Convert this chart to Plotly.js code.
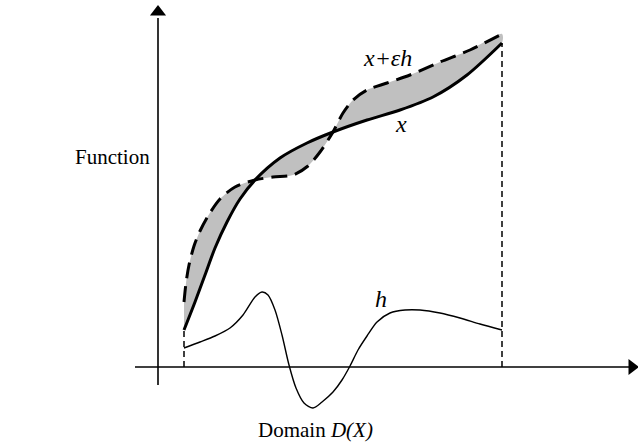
<!DOCTYPE html>
<html>
<head>
<meta charset="utf-8">
<script src="https://cdn.plot.ly/plotly-3.0.1.min.js"></script>
<style>html,body{margin:0;padding:0;background:#fff;}#chart{width:638px;height:446px;}</style>
</head>
<body>
<div id="chart"></div>
<script>
// Schematic coordinates: origin at the axes crossing, v grows upward.
// Curve x (solid)
const xCurveU = [26, 37, 47, 57, 69, 82, 97, 122, 149, 175, 209, 242, 275, 309, 344];
const xCurveV = [37, 65, 92, 119, 145, 168, 187, 209, 224, 235, 247, 257, 270, 292, 324];
// Curve x + eps*h (dashed)
const pertU = [26, 28, 31, 36, 42, 50, 62, 77, 97, 115, 135, 150, 162, 175, 185, 195, 209, 229, 252, 282, 312, 344];
const pertV = [65, 84, 102, 121, 136, 151, 168, 180, 187, 190, 192, 201, 215, 235, 254, 267, 277, 284, 292, 305, 317, 333];
// Curve h (thin)
const hU = [26, 42, 57, 72, 85, 97, 104, 110, 117, 124, 131, 138, 146, 155, 164, 175, 184, 192, 200, 209, 219, 232, 247, 262, 282, 302, 322, 344];
const hV = [19, 25, 31, 39, 52, 70, 75, 72, 57, 32, 2, -21, -36, -41, -35, -25, -13, 1, 17, 31, 45, 54, 57, 57, 54, 49, 43, 37];
// Domain bounds and axes extents
const domainU = [26, 344];
const domainTopV = [37, 324];
const axisXU = [-23, 472];
const axisYV = [-18, 349];

const labels = {
  yTitle: 'Function',
  xTitle: 'Domain <i>D(X)</i>',
  pert: '<i>x+εh</i>',
  base: '<i>x</i>',
  h: '<i>h</i>'
};

const fillU = xCurveU.concat(pertU.slice().reverse());
const fillV = xCurveV.concat(pertV.slice().reverse());

const traces = [
  {x: fillU, y: fillV, mode: 'lines', fill: 'toself', fillcolor: '#c0c0c0',
   line: {width: 0, shape: 'spline', smoothing: 0.8}, hoverinfo: 'skip', showlegend: false},
  // axes
  {x: [0, 0], y: axisYV, mode: 'lines', line: {color: '#000', width: 1.6}, showlegend: false},
  {x: axisXU, y: [0, 0], mode: 'lines', line: {color: '#000', width: 1.6}, showlegend: false},
  {x: [0], y: [axisYV[1] + 6], mode: 'markers', marker: {symbol: 'triangle-up', size: 14, color: '#000'}, cliponaxis: false, showlegend: false},
  {x: [axisXU[1] + 2], y: [0], mode: 'markers', marker: {symbol: 'triangle-right', size: 14, color: '#000'}, cliponaxis: false, showlegend: false},
  // domain drop lines
  {x: [domainU[0], domainU[0]], y: [0, domainTopV[0]], mode: 'lines', line: {color: '#000', width: 1.5, dash: '6px,4px'}, showlegend: false},
  {x: [domainU[1], domainU[1]], y: [0, domainTopV[1]], mode: 'lines', line: {color: '#000', width: 1.5, dash: '6px,4px'}, showlegend: false},
  // curves
  {x: hU, y: hV, mode: 'lines', line: {color: '#000', width: 1.4, shape: 'spline', smoothing: 0.8}, showlegend: false},
  {x: pertU, y: pertV, mode: 'lines', line: {color: '#000', width: 3, shape: 'spline', smoothing: 0.8, dash: '16px,8px'}, showlegend: false},
  {x: xCurveU, y: xCurveV, mode: 'lines', line: {color: '#000', width: 3, shape: 'spline', smoothing: 0.8}, showlegend: false}
];

const fam = '"Liberation Serif", "Times New Roman", serif';
const f = {family: fam, size: 21, color: '#000'};
const fi = {family: fam, size: 24, color: '#000'};
const layout = {
  width: 638, height: 446,
  margin: {l: 0, r: 0, t: 0, b: 0},
  paper_bgcolor: '#fff', plot_bgcolor: '#fff',
  showlegend: false,
  xaxis: {range: [-158, 480], visible: false, fixedrange: true},
  yaxis: {range: [-79, 367], visible: false, fixedrange: true},
  annotations: [
    {x: -46, y: 210, text: labels.yTitle, showarrow: false, font: f},
    {x: 157, y: -63, text: labels.xTitle, showarrow: false, font: f},
    {x: 229, y: 309, text: labels.pert, showarrow: false, font: fi},
    {x: 243, y: 243, text: labels.base, showarrow: false, font: fi},
    {x: 223, y: 68, text: labels.h, showarrow: false, font: fi}
  ]
};
Plotly.newPlot('chart', traces, layout, {staticPlot: true, displayModeBar: false});
</script>
</body>
</html>
